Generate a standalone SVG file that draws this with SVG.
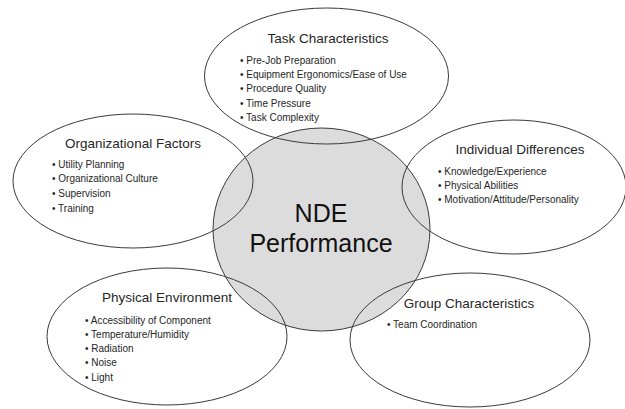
<svg xmlns="http://www.w3.org/2000/svg" width="625" height="409" viewBox="0 0 625 409">
<style>
.out{fill:none;stroke:#3a3a3a;stroke-width:1}
.hub{fill:#dcdcdc;stroke:#3a3a3a;stroke-width:1}
.t{font-family:"Liberation Sans",Arial,sans-serif;font-size:13.5px;fill:#262626;text-anchor:middle}
.b{font-family:"Liberation Sans",Arial,sans-serif;font-size:10px;fill:#262626}
.c{font-family:"Liberation Sans",Arial,sans-serif;font-size:25px;fill:#111;text-anchor:middle}
</style>
<rect width="625" height="409" fill="#fff"/>
<g id="nde-performance">
<ellipse class="hub" cx="321.5" cy="229.5" rx="108.5" ry="101.5"/>
<text class="c" x="321" y="222">NDE</text>
<text class="c" x="321" y="252">Performance</text>
</g>
<g id="task-characteristics">
<ellipse class="out" cx="326.5" cy="76" rx="122" ry="68"/>
<text class="t" x="328" y="43">Task Characteristics</text>
<text class="b" x="240" y="63.5">• Pre-Job Preparation</text>
<text class="b" x="240" y="77.8">• Equipment Ergonomics/Ease of Use</text>
<text class="b" x="240" y="92">• Procedure Quality</text>
<text class="b" x="240" y="106.5">• Time Pressure</text>
<text class="b" x="240" y="121">• Task Complexity</text>
</g>
<g id="organizational-factors">
<ellipse class="out" cx="133" cy="181" rx="120" ry="67"/>
<text class="t" x="133" y="148">Organizational Factors</text>
<text class="b" x="52" y="167.5">• Utility Planning</text>
<text class="b" x="52" y="182">• Organizational Culture</text>
<text class="b" x="52" y="197">• Supervision</text>
<text class="b" x="52" y="211.5">• Training</text>
</g>
<g id="individual-differences">
<ellipse class="out" cx="514" cy="187" rx="112" ry="67"/>
<text class="t" x="520" y="154">Individual Differences</text>
<text class="b" x="438" y="174.5">• Knowledge/Experience</text>
<text class="b" x="438" y="188.5">• Physical Abilities</text>
<text class="b" x="438" y="202.5">• Motivation/Attitude/Personality</text>
</g>
<g id="physical-environment">
<ellipse class="out" cx="167" cy="336.5" rx="120" ry="68.5"/>
<text class="t" x="167" y="302">Physical Environment</text>
<text class="b" x="85" y="323.5">• Accessibility of Component</text>
<text class="b" x="85" y="337.5">• Temperature/Humidity</text>
<text class="b" x="85" y="351.5">• Radiation</text>
<text class="b" x="85" y="366">• Noise</text>
<text class="b" x="85" y="380.5">• Light</text>
</g>
<g id="group-characteristics">
<ellipse class="out" cx="470" cy="340" rx="120" ry="67"/>
<text class="t" x="469" y="308">Group Characteristics</text>
<text class="b" x="387" y="327.5">• Team Coordination</text>
</g>
<g id="connectors"/>
</svg>
